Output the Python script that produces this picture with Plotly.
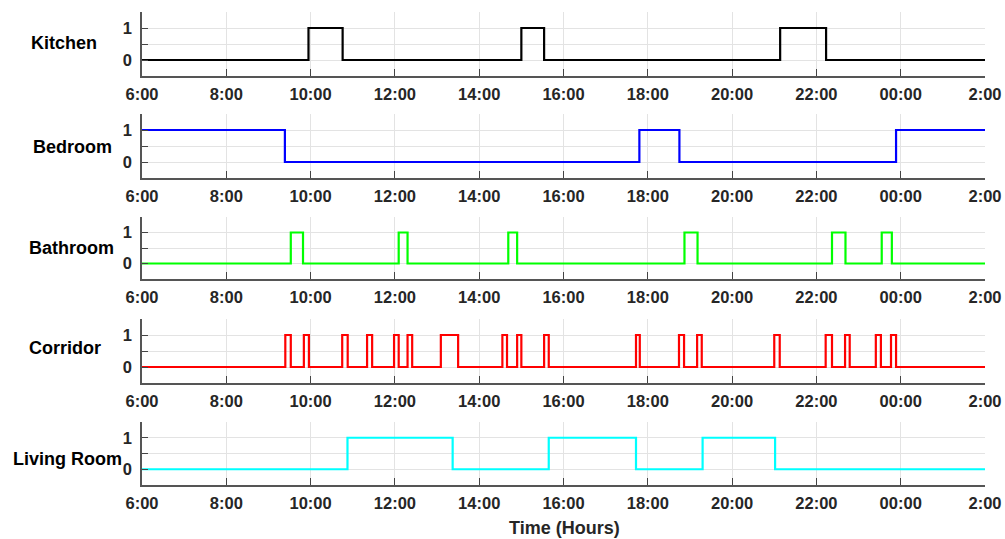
import plotly.graph_objects as go

# ---- data (hours since midnight; values > 24 are next day) ----
rooms = ["Kitchen", "Bedroom", "Bathroom", "Corridor", "Living Room"]

kitchen_t = [6, 9.95, 10.76, 15.0, 15.54, 21.14, 22.23, 26]
kitchen_s = [0, 1, 0, 1, 0, 1, 0, 0]

bedroom_t = [6, 9.39, 17.80, 18.75, 23.89, 26]
bedroom_s = [1, 0, 1, 0, 1, 1]

bathroom_t = [6, 9.53, 9.82, 12.09, 12.30, 14.69, 14.90, 18.87, 19.18,
              22.37, 22.69, 23.55, 23.79, 26]
bathroom_s = [0, 1, 0, 1, 0, 1, 0, 1, 0, 1, 0, 1, 0, 0]

corridor_t = [6, 9.40, 9.53, 9.84, 9.96, 10.75, 10.88, 11.34, 11.46,
              11.98, 12.09, 12.30, 12.41, 13.09, 13.50, 14.55, 14.66,
              14.90, 15.00, 15.54, 15.65, 17.72, 17.81, 18.74, 18.86,
              19.17, 19.28, 21.00, 21.13, 22.22, 22.37, 22.68, 22.79,
              23.41, 23.53, 23.77, 23.89, 26]
corridor_s = [0, 1, 0, 1, 0, 1, 0, 1, 0, 1, 0, 1, 0, 1, 0, 1, 0, 1, 0,
              1, 0, 1, 0, 1, 0, 1, 0, 1, 0, 1, 0, 1, 0, 1, 0, 1, 0, 0]

living_t = [6, 10.875, 13.37, 15.65, 17.72, 19.30, 21.02, 26]
living_s = [0, 1, 0, 1, 0, 1, 0, 0]

x_tickvals = [6, 8, 10, 12, 14, 16, 18, 20, 22, 24, 26]
x_ticktext = ["6:00", "8:00", "10:00", "12:00", "14:00", "16:00", "18:00",
              "20:00", "22:00", "00:00", "2:00"]
y_tickvals = [-0.5, 0, 0.5, 1, 1.5]
y_ticktext = ["", "0", "", "1", ""]

series = [(kitchen_t, kitchen_s), (bedroom_t, bedroom_s), (bathroom_t, bathroom_s),
          (corridor_t, corridor_s), (living_t, living_s)]
colors = ["#000000", "#0000FF", "#00FF00", "#FF0000", "#00FFFF"]

# ---- layout geometry ----
W, H = 1005, 539
mt, mb, ml, mr = 12, 54, 142, 20
plot_h = H - mt - mb
panel_px = [(12, 76), (114, 178), (217, 279), (319, 383), (422, 485)]  # top,bottom in px
label_x_px = [64, 72, 71, 65, 67]
label_y_px = [43, 147, 248, 348, 459]

def to_paper_y(py):
    return (H - mb - py) / plot_h

FONT = "Liberation Sans, Arial, sans-serif"
fig = go.Figure()
layout = dict(
    width=W, height=H,
    margin=dict(l=ml, r=mr, t=mt, b=mb, autoexpand=False),
    plot_bgcolor="white", paper_bgcolor="white",
    showlegend=False,
    font=dict(family=FONT, color="#262626"),
)
annotations = []
for i, ((t, s), c) in enumerate(zip(series, colors)):
    n = i + 1
    xa = "x" if n == 1 else f"x{n}"
    ya = "y" if n == 1 else f"y{n}"
    fig.add_trace(go.Scatter(x=t, y=s, mode="lines", line=dict(color=c, width=2.2, shape="hv"),
                             xaxis=xa, yaxis=ya, hoverinfo="skip"))
    top, bot = panel_px[i]
    dom = [to_paper_y(bot), min(1.0, to_paper_y(top))]
    layout[f"xaxis{'' if n == 1 else n}"] = dict(
        domain=[0, 1], anchor=ya, range=[6, 26],
        tickvals=x_tickvals, ticktext=x_ticktext,
        ticks="inside", ticklen=7, tickcolor="#444444", tickwidth=1,
        showline=True, linecolor="#555555", linewidth=1.5,
        showgrid=True, gridcolor="#e3e3e3", gridwidth=1,
        zeroline=False, mirror=False, automargin=False,
        ticklabeloverflow="allow",
        tickfont=dict(size=16.5, color="#262626", family=FONT, weight="bold"),
        ticklabelstandoff=2,
    )
    layout[f"yaxis{'' if n == 1 else n}"] = dict(
        domain=dom, anchor=xa, range=[-0.5, 1.5],
        tickvals=y_tickvals, ticktext=y_ticktext,
        ticks="inside", ticklen=6, tickcolor="#444444", tickwidth=1,
        showline=True, linecolor="#555555", linewidth=1.5,
        showgrid=True, gridcolor="#e3e3e3", gridwidth=1,
        zeroline=False, automargin=False,
        tickfont=dict(size=16.5, color="#262626", family=FONT, weight="bold"),
        ticklabelstandoff=5,
    )
    annotations.append(dict(
        text=f"<b>{rooms[i]}</b>", xref="paper", yref="paper",
        x=(label_x_px[i] - ml) / (W - ml - mr), y=to_paper_y(label_y_px[i]),
        xanchor="center", yanchor="middle", showarrow=False,
        font=dict(size=18, color="#000000", family=FONT),
    ))

annotations.append(dict(
    text="<b>Time (Hours)</b>", xref="paper", yref="paper",
    x=(564 - ml) / (W - ml - mr), y=to_paper_y(528), xanchor="center", yanchor="middle",
    showarrow=False,
    font=dict(size=18, color="#262626", family=FONT),
))
layout["annotations"] = annotations
fig.update_layout(**layout)
fig.write_html("out.html", post_script="document.body.style.margin='0';",
               config={"displayModeBar": False})
